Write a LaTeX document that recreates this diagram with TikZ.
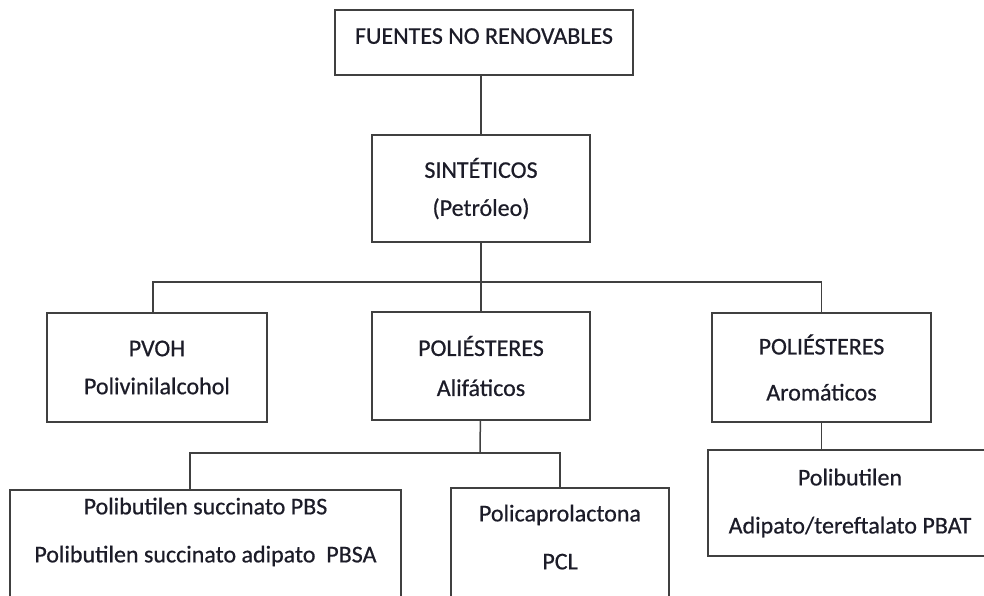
\documentclass[tikz,border=0pt]{standalone}
\usepackage{fontspec}
\setmainfont{Carlito}[FakeBold=0.6]
\usetikzlibrary{shapes,arrows,positioning,calc}
\definecolor{linegray}{HTML}{404040}
\definecolor{textdark}{HTML}{1C1C28}

\begin{document}
\begin{tikzpicture}[x=1pt, y=-1pt]
\tikzstyle{block} = [rectangle, draw=linegray, line width=1.5pt, inner sep=0pt, align=center, text=textdark, font=\fontsize{24}{40}\selectfont]
\tikzstyle{link} = [draw=linegray, line width=1.5pt]

\useasboundingbox (0,0) rectangle (984,595);

\node [block, minimum width=298, minimum height=65, text depth=13pt] (fuentes) at (484,42.5) {FUENTES NO RENOVABLES};
\node [block, minimum width=218, minimum height=107] (sint) at (481,188.5) {SINTÉTICOS\\[-2pt](Petróleo)};

\node [block, minimum width=220, minimum height=109] (pvoh) at (157,367.5) {PVOH\\[-2pt]Polivinilalcohol};
\node [block, minimum width=218, minimum height=108] (alif) at (481,366) {POLIÉSTERES\\Alifáticos};
\node [block, minimum width=219, minimum height=109] (arom) at (821.5,367.5) {POLIÉSTERES\\[6pt]Aromáticos};

\node [block, minimum width=391, minimum height=110, text depth=30pt] (pbs) at (205.5,545) {Polibutilen succinato PBS\\[8pt]Polibutilen succinato adipato\ \ PBSA};
\node [block, minimum width=218, minimum height=112, text depth=14pt] (pcl) at (560,544) {Policaprolactona\\[8pt]PCL};
% box runs past the right margin, text kept at x=850
\node [block, minimum width=302, minimum height=106] (pbat) at (859,503) {Polibutilen\hspace*{18pt}\\[8pt]Adipato/tereftalato PBAT\hspace*{18pt}};

% bus lines
\coordinate (busA) at (481,282);
\coordinate (busB) at (480,453);

\draw [link] (sint.north |- fuentes.south) -- (sint.north);
\draw [link] (sint) -- (busA);
\draw [link] ([xshift=-4pt]pvoh.north) |- (busA) -| (arom.north);
\draw [link] (busA) -- (alif);

\draw [link] (alif) -- (busB);
\draw [link] ([xshift=-15.5pt]pbs.north) |- (busB) -| (pcl.north);
\draw [link] (arom.south) -- (arom.south |- pbat.north);
\end{tikzpicture}
\end{document}
